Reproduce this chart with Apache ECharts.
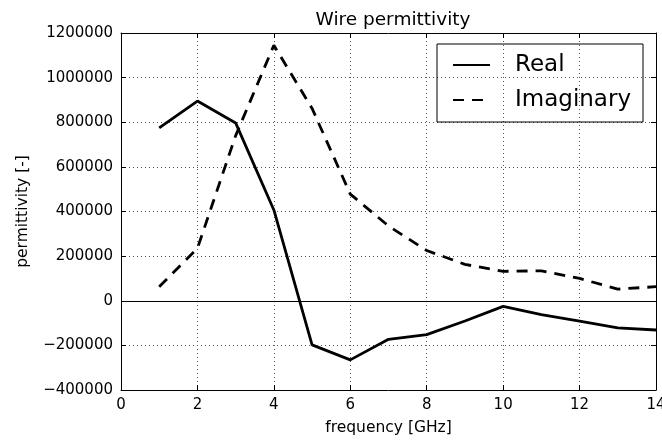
<!DOCTYPE html>
<html lang="en">
<head>
    <meta charset="UTF-8">
    <title>Wire permittivity</title>
    <script src="https://cdn.jsdelivr.net/npm/echarts@6/dist/echarts.min.js"></script>
    <style>
        body { margin: 0; padding: 0; background: #fff; }
        #chart { width: 662px; height: 441px; }
    </style>
</head>
<body>
    <div id="chart"></div>
    <script>
        // values
        const freq = [1, 2, 3, 4, 5, 6, 7, 8, 9, 10, 11, 12, 13, 14];
        const realVals = [775000, 895000, 797000, 407000, -198000, -265000, -173000, -152000, -91000, -25000, -62000, -91000, -122000, -131000];
        const imagVals = [63000, 235000, 740000, 1145000, 862000, 478000, 335000, 225000, 163000, 132000, 134000, 100000, 52000, 63000];

        const font = 'DejaVu Sans';
        const minus = v => String(v).replace('-', '\u2212');

        const tickStyle = { inside: true, length: 5, lineStyle: { color: '#000', width: 1 } };
        const lineAxis = { show: true, onZero: false, lineStyle: { color: '#000', width: 1 } };
        const dotted = { show: true, lineStyle: { color: '#555', width: 1, type: [1, 3] } };

        const chart = echarts.init(document.getElementById('chart'));
        chart.setOption({
            animation: false,
            title: {
                text: 'Wire permittivity',
                left: 388,
                top: 6,
                textAlign: 'center',
                textStyle: { fontFamily: font, fontSize: 18.5, fontWeight: 'normal', color: '#000' }
            },
            grid: { left: 121, right: 6, top: 33, bottom: 51, outerBoundsMode: 'none' },
            legend: {
                orient: 'vertical',
                left: 437,
                top: 44,
                padding: [8, 12, 9, 15],
                borderColor: '#000',
                borderWidth: 1,
                itemWidth: 37,
                itemHeight: 14,
                itemGap: 9,
                itemStyle: { opacity: 0 },
                textStyle: { fontFamily: font, fontSize: 23, color: '#000', lineHeight: 26, padding: [0, 0, 0, 20] },
                data: ['Real', 'Imaginary']
            },
            xAxis: [
                {
                    type: 'value', min: 0, max: 14, interval: 2,
                    name: 'frequency [GHz]', nameLocation: 'middle', nameGap: 30,
                    nameTextStyle: { fontFamily: font, fontSize: 15.5, color: '#000' },
                    axisLine: lineAxis, axisTick: tickStyle, splitLine: dotted,
                    axisLabel: { fontFamily: font, fontSize: 15, color: '#000', margin: 8 }
                },
                {
                    type: 'value', min: 0, max: 14, interval: 2, position: 'top',
                    axisLine: lineAxis, axisTick: tickStyle, splitLine: { show: false },
                    axisLabel: { show: false }
                }
            ],
            yAxis: [
                {
                    type: 'value', min: -400000, max: 1200000, interval: 200000,
                    name: 'permittivity [-]', nameLocation: 'middle', nameGap: 90,
                    nameTextStyle: { fontFamily: font, fontSize: 15.5, color: '#000' },
                    axisLine: lineAxis, axisTick: tickStyle, splitLine: dotted,
                    axisLabel: { fontFamily: font, fontSize: 15, color: '#000', margin: 8, formatter: minus }
                },
                {
                    type: 'value', min: -400000, max: 1200000, interval: 200000, position: 'right',
                    axisLine: lineAxis, axisTick: tickStyle, splitLine: { show: false },
                    axisLabel: { show: false }
                }
            ],
            series: [
                {
                    name: 'Real',
                    type: 'line',
                    symbol: 'none',
                    data: freq.map((f, i) => [f, realVals[i]]),
                    lineStyle: { color: '#000', width: 2.8 },
                    itemStyle: { color: '#000' },
                    markLine: {
                        silent: true,
                        symbol: 'none',
                        label: { show: false },
                        lineStyle: { color: '#000', width: 1.2, type: 'solid' },
                        data: [{ yAxis: 0 }]
                    }
                },
                {
                    name: 'Imaginary',
                    type: 'line',
                    symbol: 'none',
                    data: freq.map((f, i) => [f, imagVals[i]]),
                    lineStyle: { color: '#000', width: 2.8, type: [11, 8] },
                    itemStyle: { color: '#000' }
                }
            ]
        });
    </script>
</body>
</html>
